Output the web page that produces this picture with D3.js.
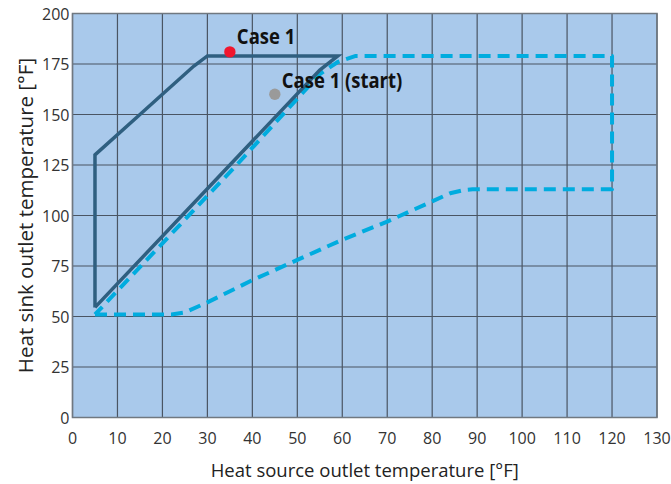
<!DOCTYPE html>
<html>
<head>
<meta charset="utf-8">
<script src="https://cdn.jsdelivr.net/npm/d3@7"></script>
<style>
  body { margin: 0; background: #fff; }
  text { font-family: "Open Sans", "Noto Sans", sans-serif; }
</style>
</head>
<body>
<div id="chart"></div>
<script>
// data
const xTicks = [0, 10, 20, 30, 40, 50, 60, 70, 80, 90, 100, 110, 120, 130];
const yTicks = [0, 25, 50, 75, 100, 125, 150, 175, 200];

// solid envelope (dark)
const envelopeX = [5, 5, 15, 20, 27, 30, 59, 55, 5];
const envelopeY = [54.5, 130, 150, 160, 174, 179, 179, 172, 54.5];

// dashed envelope (cyan)
const rangeX = [5, 22, 25, 30, 40, 50, 60, 70, 80, 84, 87, 89, 120, 120, 63, 59, 55, 36.5, 5];
const rangeY = [51, 51, 52, 57, 68, 78, 88, 97, 107, 111, 112.6, 113, 113, 179, 179, 176, 170, 125, 51];

const caseNames = ["Case 1", "Case 1 (start)"];
const caseX = [35, 45];
const caseY = [181, 160];
const caseColors = ["#f0162e", "#9a9a9a"];

const width = 671, height = 484;
const margin = { top: 13.5, right: 14, bottom: 66.5, left: 72.5 };

const svg = d3.select("#chart").append("svg")
  .attr("width", width)
  .attr("height", height);

const x = d3.scaleLinear().domain([0, 130]).range([margin.left, width - margin.right]);
const y = d3.scaleLinear().domain([0, 200]).range([height - margin.bottom, margin.top]);

svg.append("rect")
  .attr("x", x(0)).attr("y", y(200))
  .attr("width", x(130) - x(0)).attr("height", y(0) - y(200))
  .attr("fill", "#a9c9eb");

// grid
svg.append("g")
  .selectAll("line")
  .data(xTicks)
  .join("line")
  .attr("x1", d => x(d)).attr("x2", d => x(d))
  .attr("y1", y(0)).attr("y2", y(200))
  .attr("stroke", "#4a5563").attr("stroke-width", 1.2);

svg.append("g")
  .selectAll("line")
  .data(yTicks)
  .join("line")
  .attr("x1", x(0)).attr("x2", x(130))
  .attr("y1", d => y(d)).attr("y2", d => y(d))
  .attr("stroke", "#4a5563").attr("stroke-width", 1.2);

svg.append("rect")
  .attr("x", x(0)).attr("y", y(200))
  .attr("width", x(130) - x(0)).attr("height", y(0) - y(200))
  .attr("fill", "none")
  .attr("stroke", "#707880").attr("stroke-width", 1.5);

// tick labels
svg.append("g")
  .selectAll("text")
  .data(xTicks)
  .join("text")
  .attr("x", d => x(d))
  .attr("y", y(0) + 26)
  .attr("text-anchor", "middle")
  .attr("fill", "#333")
  .style("font-size", "16px")
  .text(d => d);

svg.append("g")
  .selectAll("text")
  .data(yTicks)
  .join("text")
  .attr("x", x(0) - 3)
  .attr("y", d => y(d) + 6)
  .attr("text-anchor", "end")
  .attr("fill", "#333")
  .style("font-size", "16px")
  .text(d => d);

// axis titles
svg.append("text")
  .attr("x", (x(0) + x(130)) / 2)
  .attr("y", height - 7)
  .attr("text-anchor", "middle")
  .attr("fill", "#222")
  .style("font-size", "18.5px")
  .text("Heat source outlet temperature [°F]");

svg.append("text")
  .attr("transform", `translate(33,${(y(0) + y(200)) / 2}) rotate(-90)`)
  .attr("text-anchor", "middle")
  .attr("fill", "#222")
  .style("font-size", "20.5px")
  .text("Heat sink outlet temperature [°F]");

const line = d3.line().x(d => x(d[0])).y(d => y(d[1]));

svg.append("path")
  .datum(rangeX.map((v, i) => [v, rangeY[i]]))
  .attr("d", line)
  .attr("fill", "none")
  .attr("stroke", "#00acdf")
  .attr("stroke-width", 4)
  .attr("stroke-dasharray", "12 7")
  .attr("stroke-linejoin", "round");

svg.append("path")
  .datum(envelopeX.map((v, i) => [v, envelopeY[i]]))
  .attr("d", line)
  .attr("fill", "none")
  .attr("stroke", "#2f5f80")
  .attr("stroke-width", 3.5)
  .attr("stroke-linejoin", "miter");

// case points
const cases = caseNames.map((name, i) => ({ name, x: caseX[i], y: caseY[i], color: caseColors[i] }));

svg.selectAll(".case")
  .data(cases)
  .join("circle")
  .attr("class", "case")
  .attr("cx", d => x(d.x))
  .attr("cy", d => y(d.y))
  .attr("r", 5.7)
  .attr("fill", d => d.color);

svg.selectAll(".case-label")
  .data(cases)
  .join("text")
  .attr("class", "case-label")
  .attr("transform", (d, i) => `translate(${x(d.x) + 7},${y(d.y) - (i === 0 ? 8 : 6)}) scale(0.88,1)`)
  .attr("fill", "#111")
  .style("font-size", "21px")
  .style("font-weight", "bold")
  .text(d => d.name);
</script>
</body>
</html>
